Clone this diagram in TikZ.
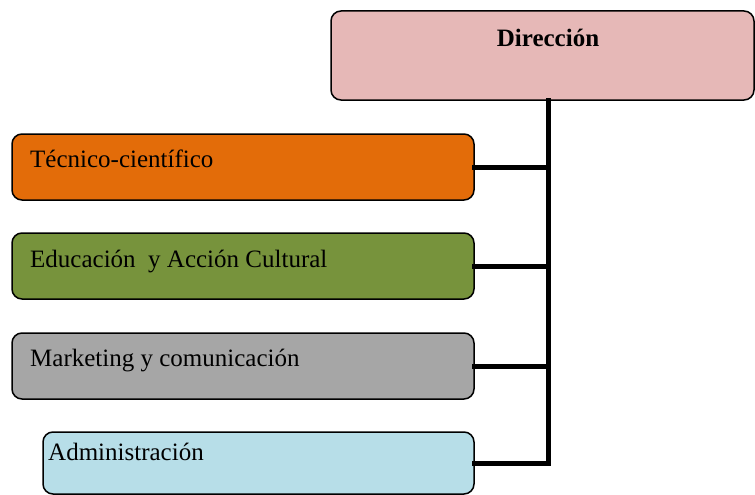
\documentclass[tikz,border=0pt]{standalone}
\usepackage{fontspec}
\setmainfont{Liberation Serif}
\definecolor{cdir}{HTML}{E6B8B7}
\definecolor{ctec}{HTML}{E36C09}
\definecolor{cedu}{HTML}{77933C}
\definecolor{cmar}{HTML}{A6A6A6}
\definecolor{cadm}{HTML}{B7DEE8}
\tikzset{
  unitbox/.style={draw=black, line width=1.5pt, rounded corners=10pt, inner sep=0pt, outer sep=0pt, minimum height=66pt},
  boxtext/.style={anchor=base west, inner sep=0pt, font=\fontsize{25}{28}\selectfont},
  conn/.style={line width=5pt, line join=miter, line cap=rect}
}
\begin{document}
\begin{tikzpicture}[x=1pt, y=-1pt]
\useasboundingbox (0,0) rectangle (755,495);
\node[unitbox, fill=cdir, minimum width=423pt, minimum height=89pt] (dir) at (542.5,55.5) {};
\node[anchor=base, inner sep=0pt, font=\fontsize{25}{28}\selectfont\bfseries] (dirt) at (548,47) {Dirección};
\node[unitbox, fill=ctec, minimum width=462pt] (b1) at (243,167) {};
\node[unitbox, fill=cedu, minimum width=462pt] (b2) at (243,266) {};
\node[unitbox, fill=cmar, minimum width=462pt] (b3) at (243,366) {};
\node[unitbox, fill=cadm, minimum width=431pt, minimum height=62pt] (b4) at (258.5,463) {};
\node[boxtext] (t1) at (30,167) {Técnico-científico};
\node[boxtext] (t2) at (30,267) {Educación\ \ y Acción Cultural};
\node[boxtext] (t3) at (30,366) {Marketing y comunicación};
\node[boxtext] (t4) at (48,460) {Administración};
\coordinate (spine) at (548,100);
\draw[conn] (b4.east) -| (dir.south -| spine);
\draw[conn] (b1.east) -- (b1.east -| spine);
\draw[conn] (b2.east) -- (b2.east -| spine);
\draw[conn] (b3.east) -- (b3.east -| spine);
\end{tikzpicture}
\end{document}
